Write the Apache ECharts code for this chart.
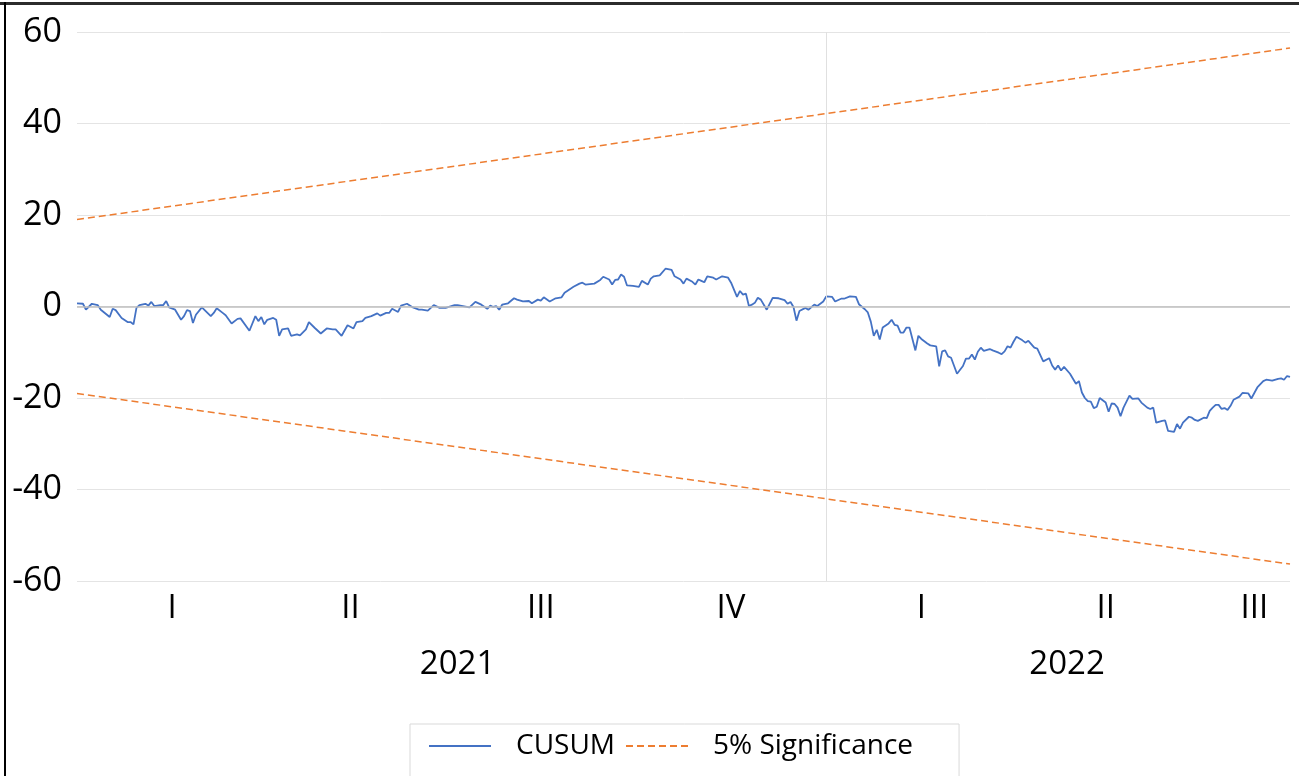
<!DOCTYPE html>
<html><head><meta charset="utf-8">
<script src="https://cdn.jsdelivr.net/npm/echarts@6/dist/echarts.min.js"></script>
<style>
html,body{margin:0;padding:0;background:#fff;overflow:hidden;}
#chart{position:absolute;left:0;top:0;width:1299px;height:776px;}
.bt{position:absolute;left:0;top:2px;width:1299px;height:3px;background:#2b2b2b;}
.bl{position:absolute;left:4px;top:2px;width:2px;height:774px;background:#000;}
</style></head><body>
<div id="chart"></div><div class="bt"></div><div class="bl"></div>
<script>
// ---- data (trading-day index from start of 2021) ----
const cusumDays = [
0,2,3,5,7,8,11,12,13,15,17,18,19,20,21,23,24,25,26,28,29,30,31,33,35,36,37,38,39,40,42,45,46,47,49,50,52,54,55,58,60,61,62,63,64,66,67,68,69,71,72,74,75,77,78,80,81,82,84,86,87,89,91,93,94,96,97,99,101,102,104,105,106,108,109,111,113,115,116,118,120,122,124,127,128,
132,134,136,138,139,140,141,142,143,145,147,148,150,152,153,155,156,157,159,161,163,164,166,167,169,170,171,174,176,177,179,180,181,182,183,184,185,187,189,190,192,193,194,196,198,200,201,203,204,205,207,208,209,210,211,212,214,215,217,219,220,222,223,224,225,226,227,228,229,230,232,234,236,238,239,240,241,242,243,245,246,248,249,
251,252,254,255,257,258,260,262,263,265,266,267,268,269,270,271,273,274,275,276,277,278,279,280,282,283,284,286,287,289,290,291,292,293,294,296,298,299,300,301,302,303,304,305,307,308,310,311,312,313,314,315,316,318,319,320,322,323,325,327,328,329,330,331,332,334,335,336,337,338,339,340,341,342,343,344,346,347,348,349,350,351,352,354,355,357,358,360,361,362,363,365,366,367,369,370,371,372,374,375,376,377,379,380,381,382,383,384,385,386,387,388,389,391,392,394,395,397,399,400,402,404,405,406,407,408];
const cusumValues = [
0.7,0.6,-0.7,0.6,0.3,-0.7,-2.3,-0.5,-0.8,-2.5,-3.4,-3.4,-3.9,-0.3,0.3,0.6,0.2,1.0,0.1,0.3,0.3,1.2,-0.2,-0.7,-2.9,-2.1,-0.8,-1.0,-3.6,-1.8,-0.2,-2.1,-1.4,-0.4,-1.4,-1.9,-3.7,-2.7,-2.6,-5.3,-2.1,-3.2,-2.3,-3.9,-2.9,-2.5,-2.9,-6.4,-5.0,-4.8,-6.4,-6.1,-6.3,-5.0,-3.4,-4.7,-5.3,-5.9,-4.8,-5.0,-5.0,-6.4,-4.1,-4.8,-3.4,-3.2,-2.5,-2.1,-1.5,-2.0,-1.4,-1.4,-0.5,-1.2,0.2,0.6,-0.2,-0.7,-0.7,-0.9,0.3,-0.3,-0.3,0.3,0.3,
-0.2,1.0,0.4,-0.5,0.2,-0.1,0.1,-0.7,0.4,0.7,1.8,1.5,1.1,1.2,0.7,1.5,1.3,2.0,1.1,1.8,2.0,3.0,3.9,4.3,5.0,5.2,4.8,5.0,5.8,6.5,5.9,4.8,5.8,5.9,7.0,6.5,4.6,4.5,4.3,5.6,4.8,6.1,6.6,6.8,8.3,8.0,6.6,5.9,5.0,6.1,5.4,4.8,5.9,5.6,5.3,6.6,6.3,5.9,6.6,6.3,5.2,2.1,3.4,2.6,2.8,0.1,0.4,0.8,1.9,1.5,-0.7,1.9,1.8,1.4,0.6,1.0,-0.1,-3.1,-1.0,-0.3,-0.7,0.4,0.1,
1.1,2.2,2.1,1.1,1.7,1.7,2.2,2.1,0.5,-0.6,-1.3,-3.3,-6.4,-5.1,-7.2,-4.6,-3.7,-2.9,-4.0,-4.2,-5.7,-5.7,-4.6,-4.6,-9.6,-6.4,-7.1,-8.1,-8.5,-8.7,-13.1,-9.8,-9.6,-10.9,-11.2,-14.7,-13.0,-11.4,-11.4,-10.5,-11.6,-9.9,-9.0,-9.7,-9.3,-9.6,-10.1,-10.4,-9.8,-8.7,-9.0,-7.7,-6.6,-7.4,-7.9,-7.5,-9.0,-9.2,-12.0,-11.3,-12.9,-13.8,-12.9,-14.0,-13.2,-14.7,-15.8,-16.9,-16.3,-18.8,-20.0,-20.7,-20.8,-22.2,-21.9,-20.0,-21.0,-23.0,-21.2,-21.3,-22.1,-24.0,-22.1,-19.5,-20.2,-20.1,-21.0,-22.1,-22.4,-22.1,-25.4,-25.0,-24.9,-27.2,-27.4,-25.7,-26.7,-25.4,-24.1,-24.3,-24.8,-25.0,-24.3,-24.4,-22.8,-22.1,-21.5,-21.5,-22.4,-22.2,-22.6,-21.7,-20.4,-19.7,-18.9,-19.0,-20.1,-17.7,-16.3,-16.0,-16.2,-15.8,-15.7,-16.0,-15.2,-15.4];
const sigDays = [0, 408];
const sigUpper = [19.0, 56.5];
const sigLower = [-19.0, -56.3];
const quarterDays = [32, 92, 156, 220, 284, 346, 396];
const quarterLabels = ['I', 'II', 'III', 'IV', 'I', 'II', 'III'];
const yearDays = [128, 333];
const yearLabels = ['2021', '2022'];
const yearBoundaryDay = 252;
const lastDay = 408;

const FONT = '"Open Sans", sans-serif';
const zip = (xs, ys) => xs.map((x, i) => [x, ys[i]]);
const qMap = {}; quarterDays.forEach((d, i) => qMap[d] = quarterLabels[i]);
const yMap = {}; yearDays.forEach((d, i) => yMap[d] = yearLabels[i]);

const chart = echarts.init(document.getElementById('chart'), null, {renderer: 'canvas'});
chart.setOption({
  animation: false,
  backgroundColor: '#fff',
  grid: {left: 77, right: 9, top: 32, bottom: 195, containLabel: false},
  xAxis: [
    {type: 'value', min: 0, max: lastDay, position: 'bottom',
     axisLine: {show: false}, axisTick: {show: false}, splitLine: {show: false},
     axisLabel: {customValues: quarterDays, formatter: v => qMap[v] || '', color: '#000',
                 fontSize: 33, fontFamily: FONT, margin: 11}},
    {type: 'value', min: 0, max: lastDay, position: 'bottom', offset: 56,
     axisLine: {show: false}, axisTick: {show: false}, splitLine: {show: false},
     axisLabel: {customValues: yearDays, formatter: v => yMap[v] || '', color: '#000',
                 fontSize: 33, fontFamily: FONT, margin: 11}}
  ],
  yAxis: {type: 'value', min: -60, max: 60, interval: 20,
    axisLine: {show: false}, axisTick: {show: false},
    splitLine: {lineStyle: {color: '#e4e4e4', width: 1}},
    axisLabel: {color: '#000', fontSize: 34, fontFamily: FONT, margin: 15, align: 'right'}},
  legend: {
    left: 410, top: 724, padding: [8, 46, 40, 18],
    borderColor: '#d9d9d9', borderWidth: 1, borderRadius: 0,
    itemWidth: 62, itemHeight: 14, itemGap: 10,
    itemStyle: {opacity: 0},
    textStyle: {color: '#000', fontSize: 28, fontFamily: FONT, padding: [0, 0, 0, 20]},
    data: ['CUSUM', '5% Significance']
  },
  series: [
    {name: 'zero', type: 'line', data: [], z: 1, silent: true,
     markLine: {silent: true, symbol: 'none', label: {show: false},
       data: [{yAxis: 0, lineStyle: {color: '#bfbfbf', width: 1.5, type: 'solid'}},
              {xAxis: yearBoundaryDay, lineStyle: {color: '#e0e0e0', width: 1, type: 'solid'}}]}},
    {name: '5% Significance', type: 'line', data: zip(sigDays, sigUpper), symbol: 'none', z: 2,
     color: '#ED7D31', lineStyle: {color: '#ED7D31', width: 1.5, type: [7, 4]}},
    {name: '5% Significance', type: 'line', data: zip(sigDays, sigLower), symbol: 'none', z: 2,
     color: '#ED7D31', lineStyle: {color: '#ED7D31', width: 1.5, type: [7, 4]}},
    {name: 'CUSUM', type: 'line', data: zip(cusumDays, cusumValues), symbol: 'none', z: 3,
     color: '#4472C4', lineStyle: {color: '#4472C4', width: 1.8}}
  ]
});
</script></body></html>
